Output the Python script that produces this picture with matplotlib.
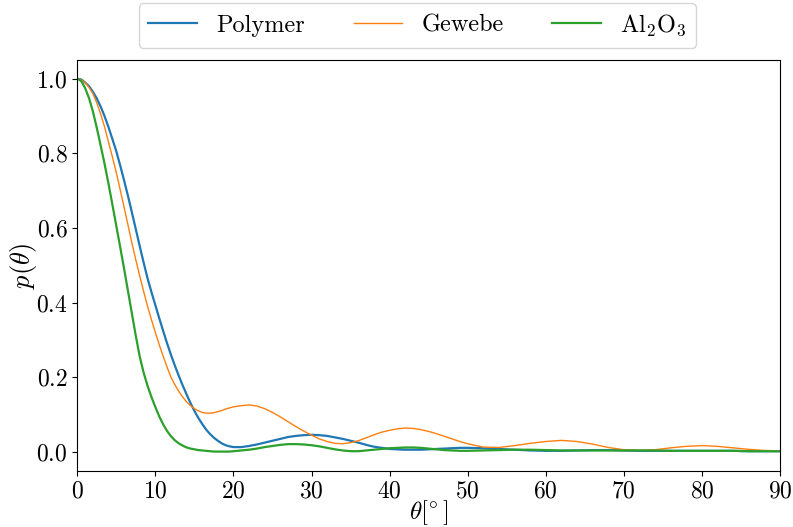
import numpy as np
import matplotlib
matplotlib.use("Agg")
import matplotlib.pyplot as plt

# LaTeX-artige Schrift ohne LaTeX
plt.rcParams['font.family'] = 'serif'
plt.rcParams['font.serif'] = ['cmr10']
plt.rcParams['mathtext.fontset'] = 'cm'
plt.rcParams['axes.formatter.use_mathtext'] = True

# Winkel in Grad
theta = [0, 0.5, 1, 1.5, 2, 2.5, 3, 3.5, 4, 4.5, 5, 5.5, 6, 6.5, 7, 7.5, 8, 8.5, 9, 9.5,
         10, 10.5, 11, 11.5, 12, 12.5, 13, 13.5, 14, 14.5, 15, 15.5, 16, 16.5, 17, 17.5,
         18, 18.5, 19, 19.5, 20,
         21, 22, 23, 24, 25, 26, 27, 28, 29, 30, 31, 32, 33, 34, 35, 36, 37, 38, 39, 40,
         41, 42, 43, 44, 45, 46, 47, 48, 49, 50,
         52, 54, 56, 58, 60, 62, 64, 66, 68, 70, 72, 74, 76, 78, 80, 82, 84, 86, 88, 90]

p_polymer = [1.0, 0.998, 0.99, 0.98, 0.965, 0.947, 0.925, 0.899, 0.87, 0.838,
             0.805, 0.767, 0.727, 0.685, 0.641, 0.596, 0.551, 0.507, 0.465, 0.428,
             0.393, 0.358, 0.324, 0.291, 0.26, 0.231, 0.204, 0.178, 0.154, 0.131,
             0.11, 0.091, 0.075, 0.06, 0.048, 0.038, 0.03, 0.023, 0.018, 0.015, 0.013,
             0.013, 0.016, 0.02, 0.025, 0.03, 0.035, 0.04, 0.043, 0.045, 0.046,
             0.045, 0.043, 0.039, 0.035, 0.03, 0.025, 0.019, 0.014, 0.011, 0.008,
             0.007, 0.006, 0.006, 0.006, 0.007, 0.008, 0.009, 0.010, 0.011, 0.011,
             0.010, 0.008, 0.006, 0.004, 0.003, 0.003, 0.004, 0.005, 0.005, 0.004,
             0.003, 0.003, 0.003, 0.003, 0.003, 0.003, 0.003, 0.002, 0.002, 0.002]

p_gewebe = [1.0, 0.997, 0.99, 0.977, 0.96, 0.935, 0.905, 0.87, 0.83, 0.79,
            0.748, 0.702, 0.655, 0.607, 0.559, 0.514, 0.471, 0.43, 0.39, 0.354,
            0.32, 0.287, 0.256, 0.227, 0.2, 0.18, 0.162, 0.147, 0.134, 0.124,
            0.116, 0.11, 0.106, 0.104, 0.104, 0.105, 0.108, 0.111, 0.115, 0.118, 0.121,
            0.124, 0.126, 0.123, 0.116, 0.106, 0.094, 0.081, 0.068, 0.056, 0.045,
            0.035, 0.028, 0.023, 0.022, 0.025, 0.030, 0.038, 0.046, 0.053, 0.058,
            0.062, 0.064, 0.063, 0.060, 0.055, 0.049, 0.042, 0.035, 0.028, 0.022,
            0.013, 0.012, 0.017, 0.023, 0.028, 0.031, 0.028, 0.021, 0.012, 0.006,
            0.004, 0.006, 0.011, 0.015, 0.017, 0.015, 0.011, 0.007, 0.004, 0.003]

p_al2o3 = [1.0, 0.994, 0.975, 0.948, 0.912, 0.868, 0.82, 0.771, 0.718, 0.662,
           0.605, 0.548, 0.49, 0.43, 0.37, 0.31, 0.255, 0.212, 0.177, 0.147,
           0.12, 0.095, 0.074, 0.056, 0.042, 0.031, 0.023, 0.017, 0.012, 0.009,
           0.007, 0.005, 0.004, 0.003, 0.002, 0.001, 0.001, 0.001, 0.001, 0.001, 0.002,
           0.004, 0.006, 0.009, 0.013, 0.016, 0.019, 0.021, 0.021, 0.020, 0.018,
           0.015, 0.011, 0.007, 0.004, 0.002, 0.002, 0.004, 0.006, 0.008, 0.010,
           0.011, 0.012, 0.012, 0.011, 0.009, 0.007, 0.005, 0.004, 0.003, 0.003,
           0.004, 0.005, 0.006, 0.006, 0.005, 0.004, 0.004, 0.004, 0.004, 0.004,
           0.004, 0.004, 0.003, 0.003, 0.003, 0.003, 0.003, 0.002, 0.002, 0.002]

fig = plt.figure(figsize=(7.93, 5.27), dpi=100)
ax = fig.add_axes([0.0975, 0.107, 0.886, 0.779])

ax.plot(theta, p_polymer, color='#1f77b4', linewidth=1.6, label='Polymer')
ax.plot(theta, p_gewebe, color='#ff7f0e', linewidth=1, label='Gewebe')
ax.plot(theta, p_al2o3, color='#2ca02c', linewidth=1.6, label=r'$\mathrm{Al_2O_3}$')

ax.set_xlim(0, 90)
ax.set_ylim(-0.05, 1.05)
ax.set_xticks(np.arange(0, 91, 10))
ax.set_yticks([0.0, 0.2, 0.4, 0.6, 0.8, 1.0])
ax.tick_params(labelsize=17)
ax.set_xlabel(r'$\theta[^{\circ}\,]$', fontsize=18, labelpad=-3)
ax.set_ylabel(r'$p(\theta)$', fontsize=19, labelpad=-2)

ax.legend(loc='lower center', bbox_to_anchor=(0.484, 1.0), ncol=3, fontsize=17.5)

fig.savefig('out.png', dpi=100)
